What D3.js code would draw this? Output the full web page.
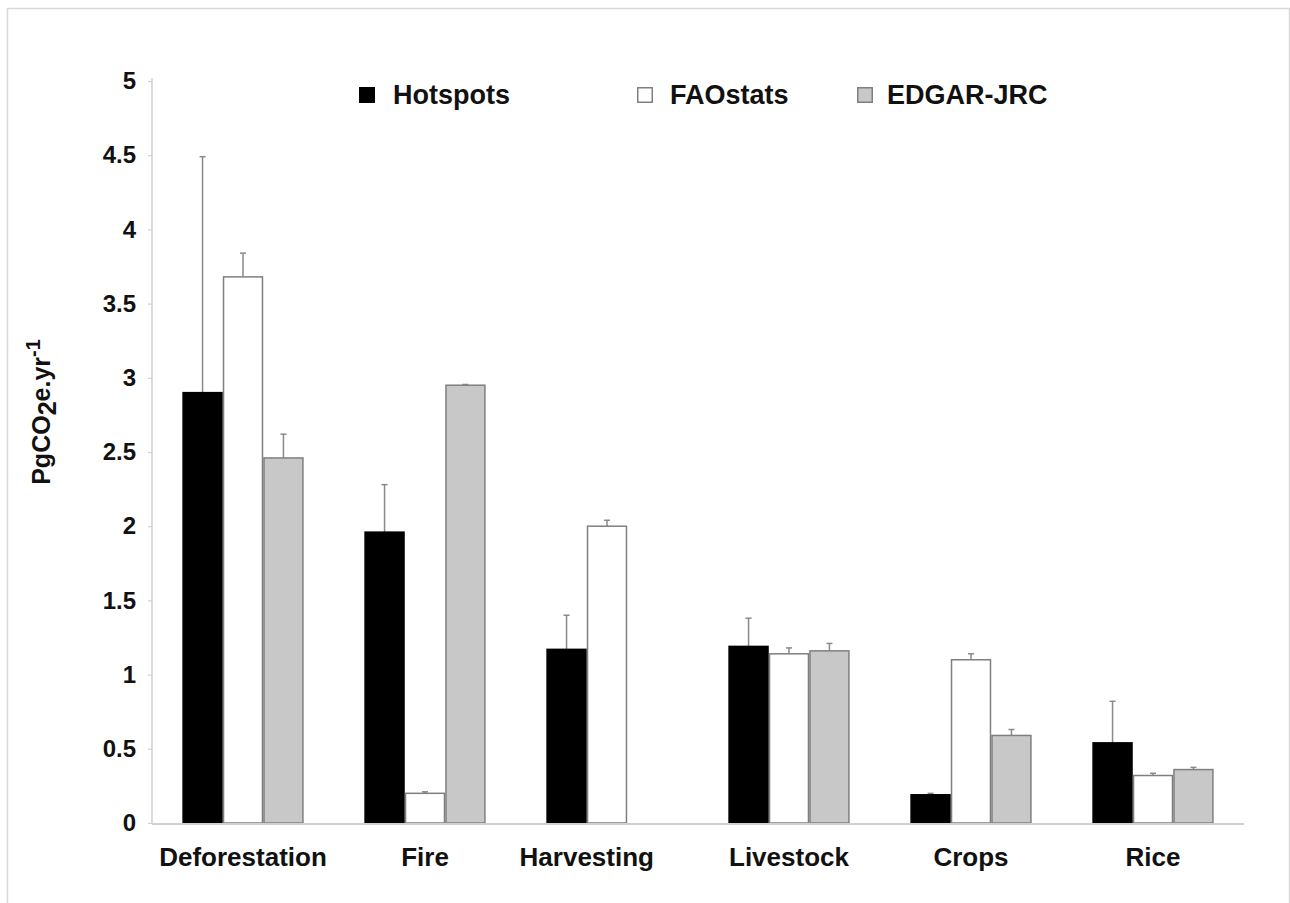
<!DOCTYPE html>
<html>
<head>
<meta charset="utf-8">
<script src="https://cdn.jsdelivr.net/npm/d3@7/dist/d3.min.js"></script>
<style>
  html, body { margin: 0; padding: 0; background: #fff; }
  svg { display: block; font-family: "Liberation Sans", Arial, sans-serif; }
</style>
</head>
<body>
<svg id="chart" width="1290" height="903"></svg>
<script>
const categories = ["Deforestation", "Fire", "Harvesting", "Livestock", "Crops", "Rice"];
const seriesNames = ["Hotspots", "FAOstats", "EDGAR-JRC"];
const hotspots     = [2.90, 1.96, 1.17, 1.19, 0.19, 0.54];
const hotspotsErr  = [4.49, 2.28, 1.40, 1.38, 0.20, 0.82];
const faostats     = [3.68, 0.20, 2.00, 1.14, 1.10, 0.32];
const faostatsErr  = [3.84, 0.21, 2.04, 1.18, 1.14, 0.335];
const edgar        = [2.46, 2.95, null, 1.16, 0.59, 0.36];
const edgarErr     = [2.62, 2.955, null, 1.21, 0.63, 0.375];
const yTicks = [0, 0.5, 1, 1.5, 2, 2.5, 3, 3.5, 4, 4.5, 5];

(function () {
const series = [
  { name: seriesNames[0], values: hotspots, errs: hotspotsErr, fill: "#000000", stroke: "#000000" },
  { name: seriesNames[1], values: faostats, errs: faostatsErr, fill: "#ffffff", stroke: "#7f7f7f" },
  { name: seriesNames[2], values: edgar, errs: edgarErr, fill: "#c8c8c8", stroke: "#7f7f7f" }
];

const svg = d3.select("#chart");

// outer frame
svg.append("path")
  .attr("d", "M7.5,903 L7.5,8.5 L1289.5,8.5 L1289.5,903")
  .attr("fill", "none").attr("stroke", "#d9d9d9").attr("stroke-width", 1.5);

const pLeft = 152, pRight = 1244, pTop = 81, pBottom = 823;

const x0 = d3.scaleBand().domain(categories).range([pLeft, pRight]).paddingInner(1/3).paddingOuter(1/6);
const x1 = d3.scaleBand().domain(seriesNames).range([0, x0.bandwidth()]);
const y = d3.scaleLinear().domain([0, 5]).range([pBottom, pTop]);

// y axis
const yAxis = d3.axisLeft(y).tickValues(yTicks).tickSize(4).tickPadding(12)
  .tickFormat(d => d3.format("")(d));
const gy = svg.append("g").attr("transform", `translate(${pLeft},0)`).call(yAxis);
gy.select(".domain").attr("stroke", "#d0d0d0").attr("stroke-width", 1.5).attr("d", `M0,${pBottom}V${pTop - 3}`);
gy.selectAll(".tick line").attr("stroke", "#d0d0d0").attr("stroke-width", 1.2);
gy.selectAll(".tick text")
  .attr("font-size", 24).attr("font-weight", "bold").attr("fill", "#111")
  .attr("font-family", "'Liberation Sans', Arial, sans-serif");

series.forEach((s) => {
  categories.forEach((c, ci) => {
    const v = s.values[ci];
    if (v == null) return;
    const bx = x0(c) + x1(s.name);
    const bw = x1.bandwidth();
    const e = s.errs[ci];
    if (e != null && e > v) {
      const cx = bx + bw / 2;
      svg.append("line").attr("x1", cx).attr("x2", cx).attr("y1", y(v)).attr("y2", y(e))
        .attr("stroke", "#8a8a8a").attr("stroke-width", 1.5);
      svg.append("line").attr("x1", cx - 3).attr("x2", cx + 3).attr("y1", y(e)).attr("y2", y(e))
        .attr("stroke", "#8a8a8a").attr("stroke-width", 1.5);
    }
    svg.append("rect")
      .attr("x", bx + 0.75).attr("y", y(v))
      .attr("width", bw - 1.5).attr("height", y(0) - y(v))
      .attr("fill", s.fill).attr("stroke", s.stroke).attr("stroke-width", 1.5);
  });
});

// x axis line
svg.append("line").attr("x1", pLeft).attr("x2", pRight).attr("y1", pBottom + 1).attr("y2", pBottom + 1)
  .attr("stroke", "#d0d0d0").attr("stroke-width", 2);

// category labels
svg.append("g").selectAll("text").data(categories).join("text")
  .attr("x", (c, ci) => {
    const present = series.filter(s => s.values[ci] != null);
    const first = x0(c) + x1(present[0].name);
    const last = x0(c) + x1(present[present.length - 1].name) + x1.bandwidth();
    return (first + last) / 2;
  })
  .attr("y", 866)
  .attr("text-anchor", "middle")
  .attr("font-size", 26).attr("font-weight", "bold").attr("fill", "#111")
  .text(d => d);

// y axis title
const yt = svg.append("text")
  .attr("transform", "translate(50,412) rotate(-90)")
  .attr("text-anchor", "middle")
  .attr("font-size", 25).attr("font-weight", "bold").attr("fill", "#111");
yt.append("tspan").text("PgCO");
yt.append("tspan").attr("dy", 6).text("2");
yt.append("tspan").attr("dy", -6).text("e.yr");
yt.append("tspan").attr("font-size", 20).attr("dy", -10).text("-1");

// legend
const legendPos = [
  { sx: 359, tx: 393 },
  { sx: 637, tx: 670 },
  { sx: 857, tx: 887 }
];
series.forEach((s, i) => {
  svg.append("rect").attr("x", legendPos[i].sx + 0.75).attr("y", 87.75)
    .attr("width", 14.5).attr("height", 14.5)
    .attr("fill", s.fill).attr("stroke", s.stroke).attr("stroke-width", 1.5);
  svg.append("text").attr("x", legendPos[i].tx).attr("y", 104)
    .attr("font-size", 27).attr("font-weight", "bold").attr("fill", "#111")
    .text(s.name);
});
})();
</script>
</body>
</html>
